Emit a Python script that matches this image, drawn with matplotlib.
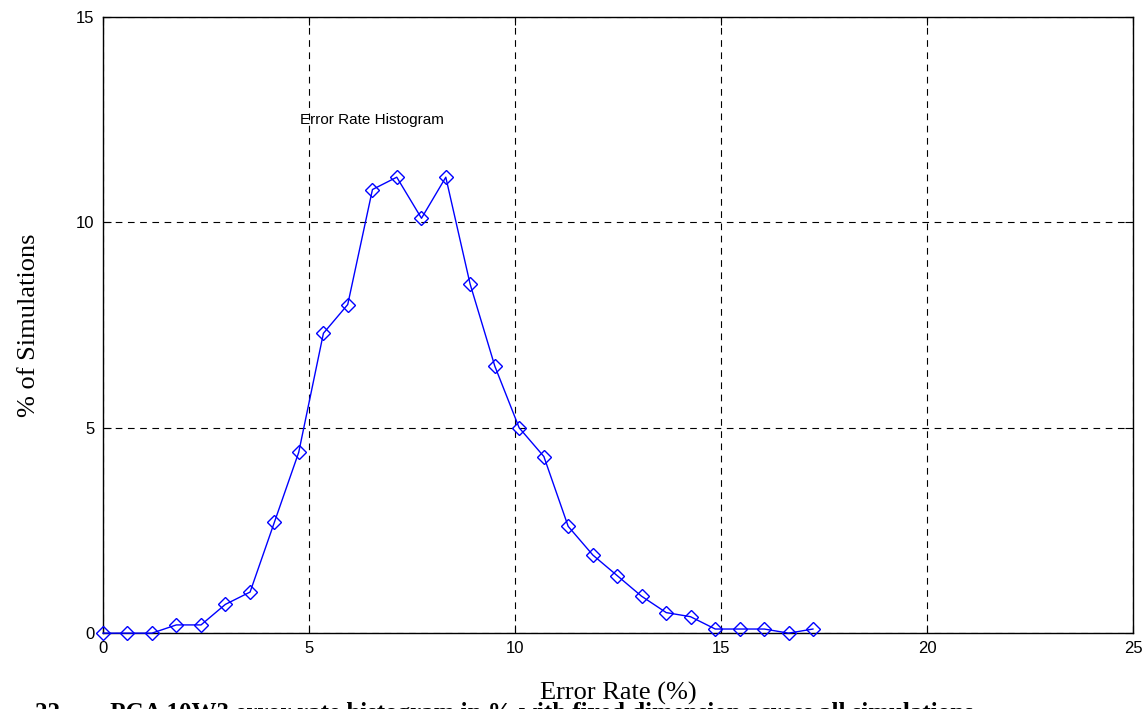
import matplotlib
matplotlib.use('Agg')
import matplotlib.pyplot as plt

# error rate bin centres (%) and share of simulations (%)
error_rate = [0.0, 0.59, 1.19, 1.78, 2.38, 2.97, 3.57, 4.16, 4.75, 5.35,
              5.94, 6.54, 7.13, 7.73, 8.32, 8.91, 9.51, 10.10, 10.70, 11.29,
              11.89, 12.48, 13.07, 13.67, 14.26, 14.86, 15.45, 16.05, 16.64, 17.23]
pct_sims = [0.0, 0.0, 0.0, 0.2, 0.2, 0.7, 1.0, 2.7, 4.4, 7.3,
            8.0, 10.8, 11.1, 10.1, 11.1, 8.5, 6.5, 5.0, 4.3, 2.6,
            1.9, 1.4, 0.9, 0.5, 0.4, 0.1, 0.1, 0.1, 0.0, 0.1]

x_ticks = [0, 5, 10, 15, 20, 25]
y_ticks = [0, 5, 10, 15]

fig = plt.figure(figsize=(11.48, 7.09), dpi=100)
ax = fig.add_axes([0.0897, 0.107, 0.8973, 0.869])

ax.plot(error_rate, pct_sims, color='blue', lw=1, marker='D', ms=7.5,
        mfc='none', mec='blue', mew=1, clip_on=False, zorder=3)

ax.set_xlim(0, 25)
ax.set_ylim(0, 15)
ax.set_xticks(x_ticks)
ax.set_yticks(y_ticks)
ax.tick_params(direction='in', top=True, right=True, length=6,
               labelsize=12, pad=6)
for lab in ax.get_xticklabels() + ax.get_yticklabels():
    lab.set_family('Liberation Sans')
ax.grid(True, color='black', ls=(0, (6, 5)), lw=0.8)
for s in ax.spines.values():
    s.set_linewidth(1)

ax.text(4.78, 12.5, 'Error Rate Histogram', fontsize=11,
        family='Liberation Sans', va='center', ha='left')

ax.set_xlabel('Error Rate (%)', fontsize=19, family='Liberation Serif', labelpad=18)
ax.set_ylabel('% of Simulations', fontsize=19, family='Liberation Serif', labelpad=26)

fig.text(35 / 1148, 1 - 702 / 709,
         '22   –   PCA 10W3 error rate histogram in % with fixed dimension across all simulations',
         fontsize=18, family='Liberation Serif', fontweight='bold', va='top', ha='left')

fig.savefig('out.png', dpi=100)
